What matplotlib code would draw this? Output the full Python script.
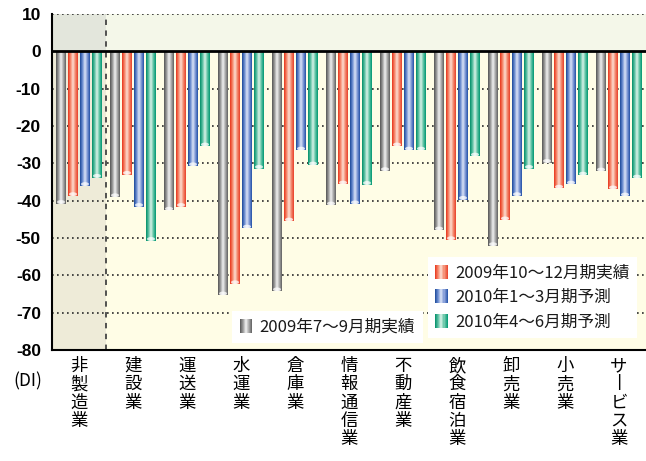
import matplotlib
matplotlib.use('Agg')
import matplotlib.pyplot as plt
import numpy as np
from matplotlib.colors import LinearSegmentedColormap
from matplotlib.patches import Ellipse, Rectangle, Patch
from matplotlib.legend_handler import HandlerBase

plt.rcParams['font.family'] = ['Noto Sans CJK JP', 'DejaVu Sans']

categories = ['非製造業', '建設業', '運送業', '水運業', '倉庫業', '情報通信業',
              '不動産業', '飲食宿泊業', '卸売業', '小売業', 'サービス業']
s_2009_q3 = [-40.8, -39.0, -42.6, -65.3, -64.2, -41.2, -32.0, -47.9, -52.1, -29.8, -32.1]
s_2009_q4 = [-38.7, -33.0, -41.6, -62.3, -45.5, -35.6, -25.4, -50.5, -45.2, -36.7, -36.9]
s_2010_q1 = [-36.0, -41.6, -30.7, -47.4, -26.5, -40.9, -26.5, -39.7, -38.7, -35.6, -38.8]
s_2010_q2 = [-33.8, -50.7, -25.4, -31.4, -30.5, -35.7, -26.5, -28.1, -31.4, -33.2, -34.0]
series_labels = ['2009年7〜9月期実績', '2009年10〜12月期実績', '2010年1〜3月期予測', '2010年4〜6月期予測']
yticks = [10, 0, -10, -20, -30, -40, -50, -60, -70, -80]
unit_label = '(DI)'

series = [s_2009_q3, s_2009_q4, s_2010_q1, s_2010_q2]
grad_colors = [
    ['#555555', '#9a9a9a', '#f2f2f2', '#a8a8a8', '#606060'],
    ['#e8341a', '#f5866a', '#fde0d4', '#f3866a', '#e8402a'],
    ['#1a4898', '#6b8cd0', '#dde5f7', '#7b95d4', '#2250a6'],
    ['#008e68', '#58bea0', '#dcf4ea', '#5cc2a2', '#009872'],
]
cmaps = [LinearSegmentedColormap.from_list('g%d' % i, c) for i, c in enumerate(grad_colors)]

fig = plt.figure(figsize=(6.46, 4.61), dpi=100)
W, H = 646, 461
ax = fig.add_axes([52 / W, 1 - 350 / H, (646 - 52) / W, (350 - 14) / H])

n = len(categories)
x = np.arange(n)
# backgrounds
ax.axhspan(0, 10, color='#f4f7e9', zorder=0, lw=0)
ax.axhspan(-80, 0, color='#fffde6', zorder=0, lw=0)
ax.axhspan(0, 10, xmin=0, xmax=1 / n, color='#e3e6dc', zorder=0.1, lw=0)
ax.axhspan(-80, 0, xmin=0, xmax=1 / n, color='#eeebd8', zorder=0.1, lw=0)

for yv in [10, -10, -20, -30, -40, -50, -60, -70]:
    ax.axhline(yv, color='#2a2a2a', lw=1.2, ls=(0, (1, 2)), zorder=0.5)
ax.axvline(0.5, color='#444444', lw=1.3, ls=(0, (3, 3)), zorder=0.5)

width = 0.185
step = 0.222
offsets = [-1.5 * step, -0.5 * step, 0.5 * step, 1.5 * step]
for si, vals in enumerate(series):
    bars = ax.bar(x + offsets[si], vals, width=width, color='none', edgecolor='none', zorder=2)
    grad = cmaps[si](np.linspace(0, 1, 64))[None, :, :]
    for b in bars:
        bx, by = b.get_x(), b.get_y()
        bw, bh = b.get_width(), b.get_height()
        im = ax.imshow(grad, extent=[bx, bx + bw, by + bh, by], aspect='auto',
                       interpolation='bilinear', zorder=2)
        im.set_clip_path(b)
        ax.add_patch(Ellipse((bx + bw * 0.5, by + bh + 0.45), bw * 0.8, 1.0,
                             facecolor='white', edgecolor='none', alpha=0.75, zorder=3))

ax.axhline(0, color='black', lw=2.0, zorder=4)
ax.set_xlim(-0.5, n - 0.5)
ax.set_ylim(-80, 10)
ax.set_yticks(yticks)
ax.set_yticklabels([str(v) for v in yticks], fontsize=12.5, fontweight='bold',
                   family=['Liberation Sans', 'DejaVu Sans'])
ax.tick_params(axis='y', length=0, pad=8)
ax.set_xticks(x)
vert_labels = ['\n'.join(c.replace('ー', '丨')) for c in categories]
ax.set_xticklabels(vert_labels, fontsize=12.5, linespacing=1.02, va='top')
ax.tick_params(axis='x', length=0, pad=5)
for s in ['top', 'right']:
    ax.spines[s].set_visible(False)
ax.spines['left'].set_linewidth(1.5)
ax.spines['bottom'].set_linewidth(1.5)
ax.spines['left'].set_zorder(5)
ax.spines['bottom'].set_zorder(5)

fig.text(28 / W, 1 - 381 / H, unit_label, fontsize=12.5, ha='center', va='center')


class GradHandler(HandlerBase):
    def __init__(self, cmap):
        super().__init__()
        self.cmap = cmap

    def create_artists(self, legend, orig_handle, xdescent, ydescent, width, height, fontsize, trans):
        arts = []
        k = 12
        w = width / k
        for i in range(k):
            arts.append(Rectangle((-xdescent + i * w, -ydescent), w * 1.02, height,
                                  facecolor=self.cmap((i + 0.5) / k), edgecolor='none', transform=trans))
        return arts


handles = [Patch(label=l) for l in series_labels]
hmap = {h: GradHandler(cmaps[i]) for i, h in enumerate(handles)}

leg1 = fig.legend(handles=handles[1:], labels=series_labels[1:], handler_map=hmap,
                  loc='upper right', bbox_to_anchor=(637 / W, 1 - 257 / H),
                  fontsize=12, frameon=True, fancybox=False, framealpha=1, edgecolor='none',
                  handlelength=0.75, handleheight=0.95, handletextpad=0.45, labelspacing=0.45,
                  borderpad=0.45, borderaxespad=0)
for t in leg1.get_texts():
    t.set_color('#1a1a1a')
leg2 = fig.legend(handles=handles[:1], labels=series_labels[:1], handler_map=hmap,
                  loc='lower left', bbox_to_anchor=(232 / W, 1 - 343 / H),
                  fontsize=12, frameon=True, fancybox=False, framealpha=1, edgecolor='none',
                  handlelength=0.75, handleheight=0.95, handletextpad=0.45,
                  borderpad=0.45, borderaxespad=0)
for t in leg2.get_texts():
    t.set_color('#1a1a1a')

fig.savefig('out.png', dpi=100)
